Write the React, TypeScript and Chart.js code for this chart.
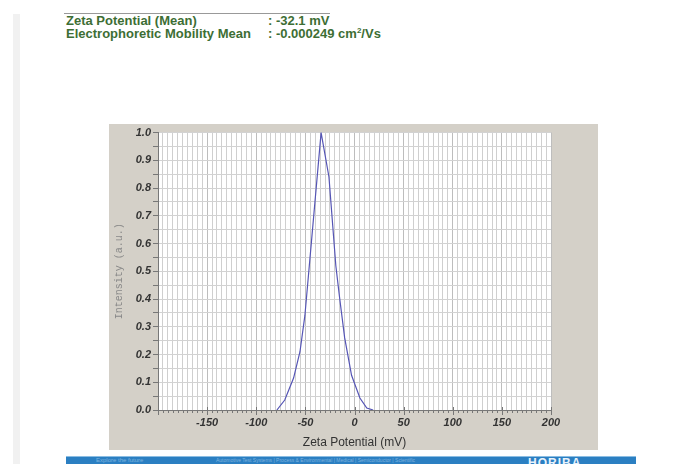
import React, { useEffect, useRef } from "react";
import { Chart, registerables } from "chart.js";

Chart.register(...registerables);

const zetaMv = [-79, -71, -62, -55.5, -50.5, -46, -34, -26, -19, -15, -10, -3, 5.5, 12.5, 19];
const intensity = [0, 0.036, 0.115, 0.21, 0.34, 0.52, 1.0, 0.84, 0.52, 0.4, 0.26, 0.125, 0.043, 0.007, 0];
const xMin = -200;
const xMax = 200;
const yMin = 0;
const yMax = 1;

const FONT = "'Liberation Sans', Arial, sans-serif";

const overlayPlugin = {
  id: "overlay",
  beforeDraw(chart: any) {
    const ctx = chart.ctx;
    const a = chart.chartArea;
    ctx.save();
    ctx.fillStyle = "#ffffff";
    ctx.fillRect(a.left, a.top, a.right - a.left, a.bottom - a.top);
    ctx.restore();
  },
  afterDraw(chart: any) {
    const ctx = chart.ctx;
    const xs = chart.scales.x;
    const area = chart.chartArea;
    ctx.save();
    ctx.strokeStyle = "#777";
    ctx.lineWidth = 1;
    for (let v = xMin; v <= xMax; v += 5) {
      const px = Math.round(xs.getPixelForValue(v)) + 0.5;
      const major = v % 50 === 0;
      ctx.beginPath();
      ctx.moveTo(px, area.bottom - (major ? 3 : 0));
      ctx.lineTo(px, area.bottom + (major ? 5 : 3));
      ctx.stroke();
    }
    ctx.beginPath();
    ctx.moveTo(area.left, area.bottom + 0.5);
    ctx.lineTo(area.right, area.bottom + 0.5);
    ctx.stroke();
    ctx.fillStyle = "#333";
    ctx.font = `12px ${FONT}`;
    ctx.textAlign = "center";
    ctx.textBaseline = "middle";
    ctx.fillText("Zeta Potential (mV)", (area.left + area.right) / 2, area.bottom + 33);
    ctx.save();
    ctx.translate(10, (area.top + area.bottom) / 2);
    ctx.rotate(-Math.PI / 2);
    ctx.fillStyle = "#888";
    ctx.font = `10px 'Liberation Mono', 'DejaVu Sans Mono', monospace`;
    ctx.fillText("Intensity (a.u.)", 0, 0);
    ctx.restore();
    ctx.restore();
  },
};

export default function App() {
  const ref = useRef<HTMLCanvasElement>(null);
  useEffect(() => {
    const chart = new Chart(ref.current as HTMLCanvasElement, {
      type: "line",
      data: {
        datasets: [
          {
            data: zetaMv.map((x, i) => ({ x, y: intensity[i] })),
            borderColor: "#5555b5",
            borderWidth: 1.2,
            pointRadius: 0,
            tension: 0,
            fill: false,
          },
        ],
      },
      options: {
        animation: false,
        responsive: false,
        maintainAspectRatio: false,
        layout: { padding: { left: 0, right: 47, top: 7, bottom: 0 } },
        plugins: { legend: { display: false }, tooltip: { enabled: false } },
        scales: {
          x: {
            type: "linear",
            min: xMin,
            max: xMax,
            afterFit: (s: any) => {
              s.height = 40;
            },
            afterBuildTicks: (s: any) => {
              const t = [];
              for (let v = xMin; v <= xMax; v += 5) t.push({ value: v });
              s.ticks = t;
            },
            ticks: {
              autoSkip: false,
              maxRotation: 0,
              padding: 6,
              color: "#333",
              font: { family: FONT, size: 11, style: "italic", weight: "bold" },
              callback: (v: any) => (v % 50 === 0 && v !== xMin ? String(v) : ""),
            },
            grid: {
              color: (c: any) => (c.tick && c.tick.value % 50 === 0 ? "#bdbdbd" : "#cfcfcf"),
              drawTicks: false,
              tickLength: 6,
            },
            border: { display: false },
          },
          y: {
            min: yMin,
            max: yMax,
            afterFit: (s: any) => {
              s.width = 49;
            },
            afterBuildTicks: (s: any) => {
              const t = [];
              for (let i = 0; i <= 20; i++) t.push({ value: i / 20 });
              s.ticks = t;
            },
            ticks: {
              autoSkip: false,
              padding: 2,
              color: "#333",
              font: { family: FONT, size: 11, style: "italic", weight: "bold" },
              callback: (v: any) => (Math.round(v * 100) % 10 === 0 ? Number(v).toFixed(1) : ""),
            },
            grid: {
              color: "#d2d2d2",
              tickColor: "#777",
              tickLength: 5,
            },
            border: { display: true, color: "#777" },
          },
        },
      },
      plugins: [overlayPlugin],
    });
    return () => chart.destroy();
  }, []);

  const green = "#3d6e34";
  return (
    <div style={{ position: "fixed", left: 0, top: 0, width: 684, height: 464, background: "#fff", overflow: "hidden", fontFamily: FONT }}>
      <div style={{ position: "absolute", left: 13, top: 14, width: 7, height: 450, background: "#f1f1f1" }} />
      <div style={{ position: "absolute", left: 64, top: 13, width: 266, height: 1, background: "#999" }} />
      <div style={{ position: "absolute", left: 66, top: 14, fontSize: 13, fontWeight: "bold", color: green, lineHeight: "13px" }}>
        Zeta Potential (Mean)
        <br />
        Electrophoretic Mobility Mean
      </div>
      <div style={{ position: "absolute", left: 268, top: 14, fontSize: 13, fontWeight: "bold", color: green, lineHeight: "13px" }}>
        : -32.1 mV
        <br />
        : -0.000249 cm<sup style={{ fontSize: 8, lineHeight: 0 }}>2</sup>/Vs
      </div>
      <div style={{ position: "absolute", left: 109, top: 124, width: 489, height: 326, background: "#d4d0c8" }}>
        <canvas ref={ref} width={489} height={326} style={{ display: "block" }} />
      </div>
      <div style={{ position: "absolute", left: 66, top: 456, width: 570, height: 8, background: "#2b7fc2", borderTop: "1px solid #8bbde3", overflow: "hidden" }}>
        <span style={{ position: "absolute", left: 30, top: 0, fontSize: 6, color: "#7fb3de", whiteSpace: "nowrap" }}>Explore the future</span>
        <span style={{ position: "absolute", left: 150, top: 0, fontSize: 5, color: "#7fb3de", whiteSpace: "nowrap" }}>Automotive Test Systems | Process &amp; Environmental | Medical | Semiconductor | Scientific</span>
        <span style={{ position: "absolute", left: 462, top: 0, fontSize: 12, fontWeight: "bold", color: "#e8f2fb", letterSpacing: 1, lineHeight: "12px" }}>HORIBA</span>
      </div>
    </div>
  );
}
